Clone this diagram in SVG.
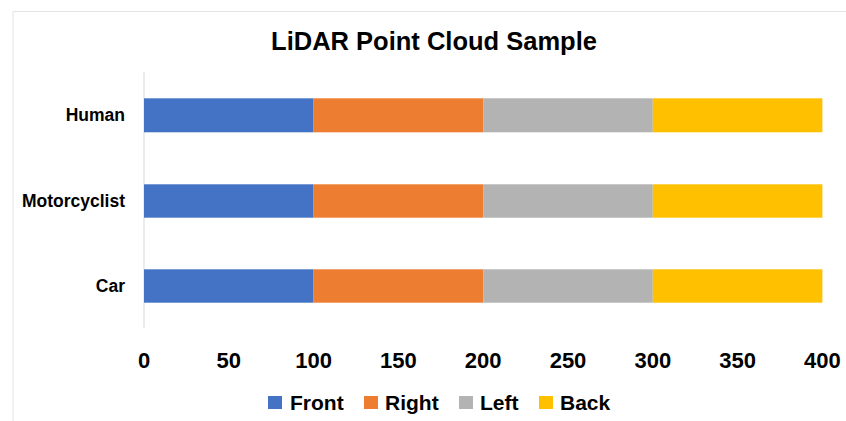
<svg xmlns="http://www.w3.org/2000/svg" width="846" height="421" viewBox="0 0 846 421">
<style>
text{font-family:"Liberation Sans",Arial,sans-serif;font-weight:bold;fill:#000}
.cat{font-size:17.5px;text-anchor:end}
.tick{font-size:22px;text-anchor:middle}
.leg{font-size:21px}
.front{fill:#4472C4}.right{fill:#ED7D31}.left{fill:#B3B3B3}.back{fill:#FFC000}
</style>
<rect x="0" y="0" width="846" height="421" fill="#fff"/>
<path d="M13 421V11.5H846" fill="none" stroke="#E3E3E3" stroke-width="1"/>
<text id="title" x="434" y="50" font-size="25.5" text-anchor="middle">LiDAR Point Cloud Sample</text>
<line id="axis" x1="144" y1="72" x2="144" y2="328" stroke="#D9D9D9" stroke-width="1"/>
<g id="categories">
<text class="cat" x="125" y="121">Human</text>
<text class="cat" x="125" y="207">Motorcyclist</text>
<text class="cat" x="125" y="292">Car</text>
</g>
<g id="series-front" class="front">
<rect x="144" y="98.3" width="169.6" height="34"/>
<rect x="144" y="184.3" width="169.6" height="33.4"/>
<rect x="144" y="269.3" width="169.6" height="33.4"/>
</g>
<g id="series-right" class="right">
<rect x="313.6" y="98.3" width="169.6" height="34"/>
<rect x="313.6" y="184.3" width="169.6" height="33.4"/>
<rect x="313.6" y="269.3" width="169.6" height="33.4"/>
</g>
<g id="series-left" class="left">
<rect x="483.2" y="98.3" width="169.6" height="34"/>
<rect x="483.2" y="184.3" width="169.6" height="33.4"/>
<rect x="483.2" y="269.3" width="169.6" height="33.4"/>
</g>
<g id="series-back" class="back">
<rect x="652.8" y="98.3" width="169.6" height="34"/>
<rect x="652.8" y="184.3" width="169.6" height="33.4"/>
<rect x="652.8" y="269.3" width="169.6" height="33.4"/>
</g>
<g id="ticks">
<text class="tick" x="144" y="368">0</text>
<text class="tick" x="228.8" y="368">50</text>
<text class="tick" x="313.6" y="368">100</text>
<text class="tick" x="398.4" y="368">150</text>
<text class="tick" x="483.2" y="368">200</text>
<text class="tick" x="568" y="368">250</text>
<text class="tick" x="652.8" y="368">300</text>
<text class="tick" x="737.6" y="368">350</text>
<text class="tick" x="822.4" y="368">400</text>
</g>
<g id="legend">
<rect class="front" x="268" y="396" width="14" height="13"/>
<text class="leg" x="290" y="410">Front</text>
<rect class="right" x="364" y="396" width="14" height="13"/>
<text class="leg" x="385" y="410">Right</text>
<rect class="left" x="459" y="396" width="14" height="13"/>
<text class="leg" x="480" y="410">Left</text>
<rect class="back" x="539" y="396" width="14" height="13"/>
<text class="leg" x="560" y="410">Back</text>
</g>
</svg>
